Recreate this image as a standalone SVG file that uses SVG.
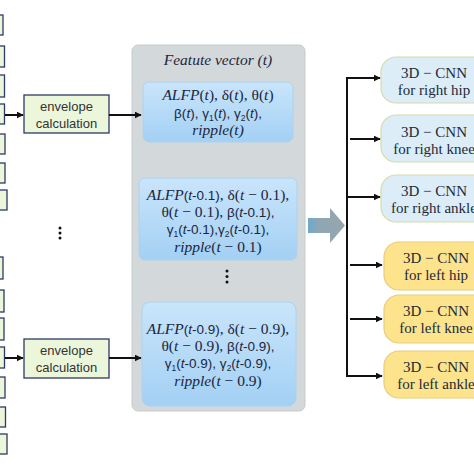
<svg xmlns="http://www.w3.org/2000/svg" width="474" height="474" viewBox="0 0 474 474">
<defs>
<marker id="ah" viewBox="0 0 10 10" refX="9" refY="5" markerWidth="7" markerHeight="7" markerUnits="userSpaceOnUse" orient="auto"><path d="M0,0 L10,5 L0,10 z" fill="#111"/></marker>
<linearGradient id="blueg" x1="0" y1="0" x2="0" y2="1"><stop offset="0" stop-color="#c9e5fb"/><stop offset="1" stop-color="#a3d0f4"/></linearGradient>
<linearGradient id="arrg" x1="0" y1="0" x2="1" y2="0"><stop offset="0" stop-color="#6ea9cf"/><stop offset="0.3" stop-color="#8fa7b4"/><stop offset="1" stop-color="#97a6ad"/></linearGradient>
<style>
.src{fill:#ecf6da;stroke:#2e3a66;stroke-width:1.3}
.env{fill:#ecf6da;stroke:#2e3a66;stroke-width:1.3}
.envt{font-family:"Liberation Sans","DejaVu Sans",sans-serif;font-size:13px;fill:#333;text-anchor:middle}
.panel{fill:#d3d8da;stroke:#c6cbcd;stroke-width:1}
.fv{fill:url(#blueg);stroke:#aed2ec;stroke-width:1}
.mt{font-family:"Liberation Serif","DejaVu Serif",serif;font-size:15.5px;fill:#1c2640;text-anchor:middle}
.sn{font-family:"Liberation Sans","DejaVu Sans",sans-serif;font-size:13.5px}
.it{font-style:italic}
.sub{font-size:8.5px}
.cb{fill:#dcedf8;stroke:#d3dca8;stroke-width:1.2}
.cy{fill:#fde38c;stroke:#e6cd78;stroke-width:1.2}
.ct{font-family:"Liberation Serif","DejaVu Serif",serif;font-size:15px;fill:#222a3a;text-anchor:middle}
.ln{stroke:#111;stroke-width:2;fill:none}
.dots{fill:#111}
</style>
</defs>

<g id="sources-top">
<rect class="src" x="-10" y="15" width="13" height="20"/>
<rect class="src" x="-10" y="46" width="14.5" height="21"/>
<rect class="src" x="-10" y="75" width="14.5" height="22"/>
<rect class="src" x="-10" y="104" width="14.5" height="20"/>
<rect class="src" x="-10" y="134" width="15" height="20"/>
<rect class="src" x="-10" y="163" width="15" height="20"/>
<rect class="src" x="-10" y="190" width="17" height="20"/>
</g>
<g id="sources-bottom">
<rect class="src" x="-10" y="257" width="13" height="22"/>
<rect class="src" x="-10" y="290" width="14" height="22"/>
<rect class="src" x="-10" y="318" width="14" height="22"/>
<rect class="src" x="-10" y="347" width="14.5" height="21"/>
<rect class="src" x="-10" y="377" width="15" height="21"/>
<rect class="src" x="-10" y="407" width="15.5" height="20"/>
<rect class="src" x="-10" y="434" width="17" height="20"/>
</g>

<g id="dots-left" class="dots">
<circle cx="60" cy="228" r="1.5"/><circle cx="60" cy="233" r="1.5"/><circle cx="60" cy="238" r="1.5"/>
</g>

<g id="envelope-top">
<rect class="env" x="24" y="95" width="85" height="38"/>
<text class="envt" x="66.5" y="111">envelope</text>
<text class="envt" x="66.5" y="128">calculation</text>
</g>
<g id="envelope-bottom">
<rect class="env" x="24" y="339" width="85" height="39"/>
<text class="envt" x="66.5" y="355">envelope</text>
<text class="envt" x="66.5" y="372">calculation</text>
</g>

<g id="feature-panel">
<rect class="panel" x="132" y="45" width="173" height="366" rx="6"/>
<text class="mt it" x="218" y="65" font-size="16">Featute vector (t)</text>
</g>

<g id="fv-t">
<rect class="fv" x="143" y="82" width="150" height="60" rx="6"/>
<text class="mt" x="218" y="100" font-size="16"><tspan class="it">ALFP</tspan>(<tspan class="it">t</tspan>), δ(<tspan class="it">t</tspan>), θ(<tspan class="it">t</tspan>)</text>
<text class="mt sn" x="218" y="118">β(<tspan class="it">t</tspan>), γ<tspan class="sub" dy="2.5">1</tspan><tspan dy="-2.5">(</tspan><tspan class="it">t</tspan>), γ<tspan class="sub" dy="2.5">2</tspan><tspan dy="-2.5">(</tspan><tspan class="it">t</tspan>),</text>
<text class="mt it" x="218" y="135" font-size="16">ripple(t)</text>
</g>

<g id="fv-t01">
<rect class="fv" x="139" y="178" width="158" height="82" rx="6"/>
<text class="mt" x="218" y="200"><tspan class="it">ALFP</tspan><tspan class="sn">(<tspan class="it">t</tspan>-0.1)</tspan>, δ(<tspan class="it">t</tspan> − 0.1),</text>
<text class="mt" x="218" y="217">θ(<tspan class="it">t</tspan> − 0.1), <tspan class="sn">β(<tspan class="it">t</tspan>-0.1),</tspan></text>
<text class="mt sn" x="218" y="234">γ<tspan class="sub" dy="2.5">1</tspan><tspan dy="-2.5">(</tspan><tspan class="it">t</tspan>-0.1),γ<tspan class="sub" dy="2.5">2</tspan><tspan dy="-2.5">(</tspan><tspan class="it">t</tspan>-0.1),</text>
<text class="mt" x="218" y="252"><tspan class="it">ripple</tspan>(<tspan class="it">t</tspan> − 0.1)</text>
</g>

<g id="dots-mid" class="dots">
<circle cx="227" cy="271" r="1.5"/><circle cx="227" cy="276.5" r="1.5"/><circle cx="227" cy="282" r="1.5"/>
</g>

<g id="fv-t09">
<rect class="fv" x="142" y="302" width="154" height="104" rx="8"/>
<text class="mt" x="218" y="334"><tspan class="it">ALFP</tspan><tspan class="sn">(<tspan class="it">t</tspan>-0.9)</tspan>, δ(<tspan class="it">t</tspan> − 0.9),</text>
<text class="mt" x="218" y="351">θ(<tspan class="it">t</tspan> − 0.9), <tspan class="sn">β(<tspan class="it">t</tspan>-0.9),</tspan></text>
<text class="mt sn" x="218" y="368">γ<tspan class="sub" dy="2.5">1</tspan><tspan dy="-2.5">(</tspan><tspan class="it">t</tspan>-0.9), γ<tspan class="sub" dy="2.5">2</tspan><tspan dy="-2.5">(</tspan><tspan class="it">t</tspan>-0.9),</text>
<text class="mt" x="218" y="386"><tspan class="it">ripple</tspan>(<tspan class="it">t</tspan> − 0.9)</text>
</g>

<g id="big-arrow">
<path d="M308,218 L330,218 L330,208 L345,225.5 L330,243 L330,233 L308,233 z" fill="url(#arrg)"/>
</g>

<g id="cnn-right-hip">
<rect class="cb" x="381" y="57" width="110" height="46" rx="15"/>
<text class="ct" x="434" y="78">3D − CNN</text>
<text class="ct" x="434" y="95">for right hip</text>
</g>
<g id="cnn-right-knee">
<rect class="cb" x="381" y="115" width="110" height="47" rx="15"/>
<text class="ct" x="434" y="137">3D − CNN</text>
<text class="ct" x="434" y="154">for right knee</text>
</g>
<g id="cnn-right-ankle">
<rect class="cb" x="381" y="175" width="110" height="47" rx="15"/>
<text class="ct" x="434" y="196">3D − CNN</text>
<text class="ct" x="434" y="213">for right ankle</text>
</g>
<g id="cnn-left-hip">
<rect class="cy" x="384" y="242" width="110" height="48" rx="15"/>
<text class="ct" x="436" y="263">3D − CNN</text>
<text class="ct" x="436" y="280">for left hip</text>
</g>
<g id="cnn-left-knee">
<rect class="cy" x="384" y="295" width="110" height="48" rx="15"/>
<text class="ct" x="436" y="316">3D − CNN</text>
<text class="ct" x="436" y="333">for left knee</text>
</g>
<g id="cnn-left-ankle">
<rect class="cy" x="384" y="351" width="110" height="47" rx="15"/>
<text class="ct" x="436" y="372">3D − CNN</text>
<text class="ct" x="436" y="389">for left ankle</text>
</g>

<g id="connectors">
<line class="ln" x1="5" y1="115" x2="23" y2="115" marker-end="url(#ah)"/>
<line class="ln" x1="109" y1="115" x2="141" y2="115" marker-end="url(#ah)"/>
<line class="ln" x1="5" y1="358" x2="23" y2="358" marker-end="url(#ah)"/>
<line class="ln" x1="109" y1="358" x2="141" y2="358" marker-end="url(#ah)"/>
<path class="ln" d="M348,78 L347,78 L347,376 L382,376" marker-end="url(#ah)"/>
<line class="ln" x1="346" y1="78" x2="380" y2="78" marker-end="url(#ah)"/>
<line class="ln" x1="350" y1="139" x2="380" y2="139" marker-end="url(#ah)"/>
<line class="ln" x1="346" y1="197" x2="380" y2="197" marker-end="url(#ah)"/>
<line class="ln" x1="350" y1="265" x2="382" y2="265" marker-end="url(#ah)"/>
<line class="ln" x1="350" y1="319" x2="382" y2="319" marker-end="url(#ah)"/>
</g>
</svg>
